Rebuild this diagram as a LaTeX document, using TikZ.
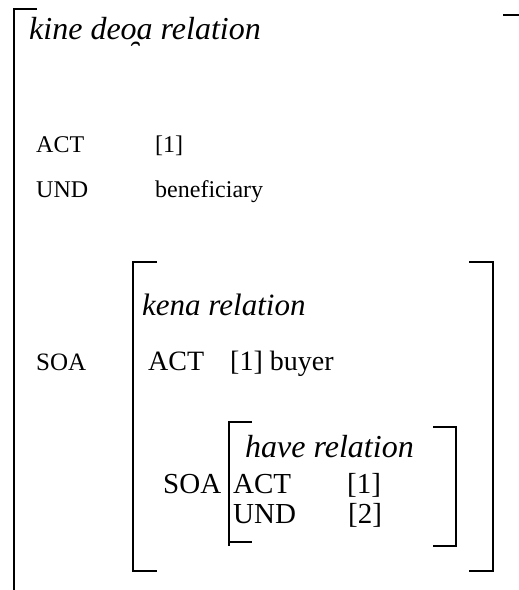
\documentclass[tikz,border=0pt]{standalone}
\usepackage{fontspec}
\setmainfont{Liberation Serif}
\begin{document}
\begin{tikzpicture}[x=1pt,y=-1pt,
  brk/.style={line width=2pt},
  txt/.style={anchor=base west, inner sep=0pt, font=\fontsize{#1}{#1}\selectfont},
  rel/.style={anchor=base west, inner sep=0pt, font=\fontsize{#1}{#1}\selectfont\itshape}]
\useasboundingbox (0,0) rectangle (519,590);

% outer structure: open left bracket and the stray right tick
\draw[brk] (37,9) -- (13.5,9) -- (13.5,590);
\draw[brk] (503,15) -- (519,15);

\node[rel=32] (kine) at (29,39) {kine deo̯a relation};
\node[txt=24] (act1) at (36,152) {ACT};
\node[txt=24] (act1v) at (155,152) {[1]};
\node[txt=24] (und1) at (36,197) {UND};
\node[txt=24] (und1v) at (155,197) {beneficiary};
\node[txt=25] (soa1) at (36,370) {SOA};

% kena relation
\draw[brk] (157,262) -- (133,262) -- (133,571) -- (157,571);
\draw[brk] (469,262) -- (493,262) -- (493,571) -- (469,571);
\node[rel=31] (kena) at (142,315) {kena relation};
\node[txt=28] (act2) at (148,370) {ACT};
\node[txt=28] (act2v) at (230,370) {[1] buyer};

% have relation
\draw[brk] (252,422) -- (229,422) -- (229,546);
\draw[brk] (229,542) -- (252,542);
\draw[brk] (433,427) -- (456,427) -- (456,546) -- (433,546);
\node[txt=29] (soa2) at (163,493) {SOA};
\node[rel=32] (have) at (245,457) {have relation};
\node[txt=29] (act3) at (233,493) {ACT};
\node[txt=29] (act3v) at (347,493) {[1]};
\node[txt=29] (und3) at (233,523) {UND};
\node[txt=29] (und3v) at (348,523) {[2]};
\end{tikzpicture}
\end{document}
